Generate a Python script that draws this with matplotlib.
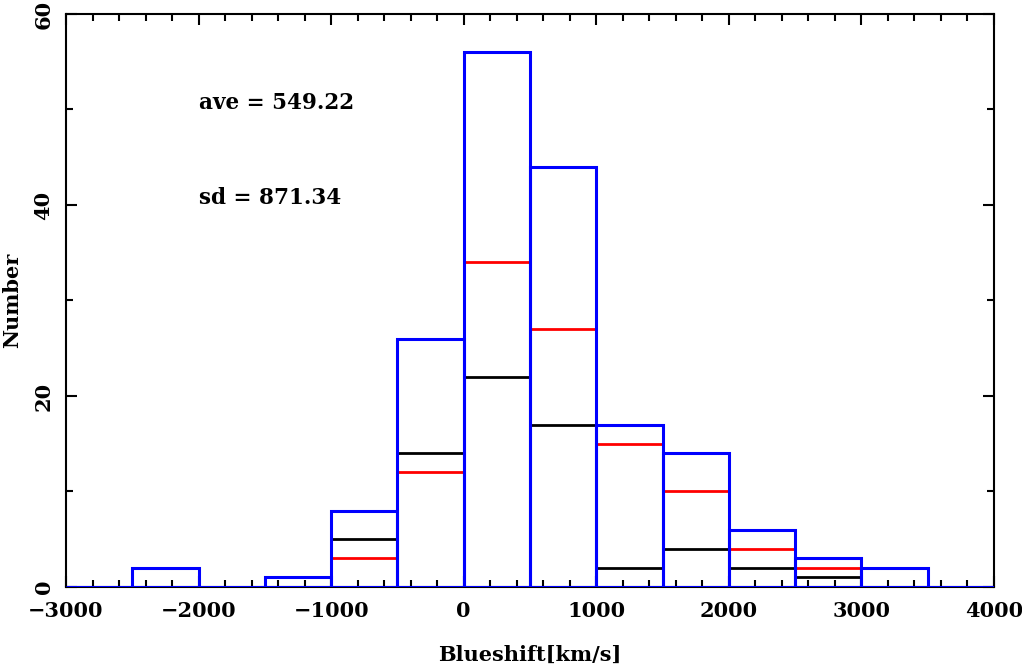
import matplotlib
matplotlib.use('Agg')
from matplotlib import pyplot as plt
from matplotlib.ticker import MultipleLocator
import numpy as np

edges = np.arange(-3000, 4001, 500)
total = [0, 2, 0, 1, 8, 26, 56, 44, 17, 14, 6, 3, 2, 0]   # blue
sub_left = np.arange(-1000, 3000, 500)
red = [3, 12, 34, 27, 15, 10, 4, 2]
black = [5, 14, 22, 17, 2, 4, 2, 1]

plt.rcParams['font.family'] = 'DejaVu Serif'
plt.rcParams['font.weight'] = 'bold'

fig = plt.figure(figsize=(10.22, 6.67), dpi=100)
ax = fig.add_axes([0.0646, 0.12, 0.908, 0.859])

ax.hlines(black, sub_left, sub_left + 500, color='black', linewidth=2)
ax.hlines(red, sub_left, sub_left + 500, color='red', linewidth=2)
ax.bar(edges[:-1], total, width=500, align='edge', fill=False,
       edgecolor='blue', linewidth=2.2, zorder=5)

ax.set_xlim(-3000, 4000)
ax.set_ylim(0, 60)
ax.xaxis.set_major_locator(MultipleLocator(1000))
ax.xaxis.set_minor_locator(MultipleLocator(200))
ax.yaxis.set_major_locator(MultipleLocator(20))
ax.yaxis.set_minor_locator(MultipleLocator(10))
ax.tick_params(which='both', direction='in', top=True, right=True, width=1.5, labelsize=15)
ax.tick_params(which='major', length=8)
ax.tick_params(which='minor', length=5)
ax.tick_params(axis='x', pad=10)
ax.tick_params(axis='y', labelrotation=90, pad=9)
for lb in ax.get_yticklabels():
    lb.set_va('center')
for s in ax.spines.values():
    s.set_linewidth(1.5)

ax.text(-2000, 50.7, 'ave = 549.22', fontsize=15.5, fontweight='bold', va='center')
ax.text(-2000, 40.7, 'sd = 871.34', fontsize=15.5, fontweight='bold', va='center')

ax.set_xlabel('Blueshift[km/s]', fontsize=15, fontweight='bold', labelpad=17)
ax.set_ylabel('Number', fontsize=15, fontweight='bold', labelpad=8)

fig.savefig('out.png', dpi=100)
